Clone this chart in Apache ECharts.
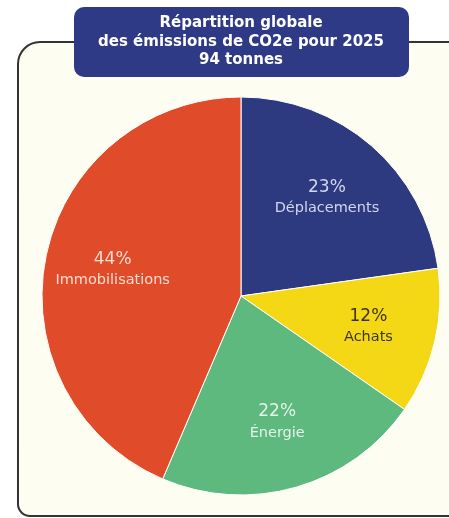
<!DOCTYPE html>
<html>
<head>
<meta charset="utf-8">
<script src="https://cdn.jsdelivr.net/npm/echarts@6/dist/echarts.min.js"></script>
<style>
  html, body { margin: 0; padding: 0; background: #fff; }
  #chart { width: 449px; height: 518px; }
</style>
</head>
<body>
<div id="chart"></div>
<script>
const categories = ['Déplacements', 'Achats', 'Énergie', 'Immobilisations']
const shares = [23, 12, 22, 44]
const sliceColors = ['#2d3a80', '#f4d816', '#5eb97e', '#e04b2a']
const labelColors = ['#d3d6ee', '#3a3520', '#e4f3e8', '#fbdccf']
const titleLines = ['Répartition globale', 'des émissions de CO2e pour 2025', '94 tonnes']

const center = [241, 296]
const radius = 199

const chart = echarts.init(document.getElementById('chart'))

const pieData = categories.map((name, i) => ({
  name: name,
  value: shares[i],
  itemStyle: { color: sliceColors[i] }
}))

const labelData = categories.map((name, i) => ({
  name: name,
  value: shares[i],
  label: { color: labelColors[i] }
}))

const option = {
  animation: false,
  graphic: [
    {
      // cadre crème
      type: 'rect',
      z: 0,
      shape: { x: 18, y: 42, width: 460, height: 474, r: [22, 0, 0, 12] },
      style: { fill: '#fefdf1', stroke: '#333', lineWidth: 2 }
    },
    {
      // bandeau du titre
      type: 'rect',
      z: 10,
      shape: { x: 74, y: 7, width: 335, height: 70, r: 10 },
      style: { fill: '#2e3a86' }
    },
    {
      type: 'text',
      z: 11,
      x: 241,
      y: 42,
      style: {
        text: titleLines.join('\n'),
        fill: '#fff',
        font: 'bold 15px "DejaVu Sans"',
        lineHeight: 18.5,
        align: 'center',
        verticalAlign: 'middle'
      }
    }
  ],
  series: [
    {
      type: 'pie',
      center: center,
      radius: [0, radius],
      startAngle: 90,
      clockwise: true,
      silent: true,
      label: { show: false },
      labelLine: { show: false },
      itemStyle: { borderColor: '#fff', borderWidth: 1 },
      data: pieData
    },
    {
      // série invisible pour placer les étiquettes
      type: 'pie',
      center: center,
      radius: [0, 256],
      startAngle: 90,
      clockwise: true,
      silent: true,
      itemStyle: { color: 'rgba(0,0,0,0)' },
      label: {
        show: true,
        position: 'inside',
        formatter: p => '{p|' + p.value + '%}\n{n|' + p.name + '}',
        rich: {
          p: { fontSize: 17, fontFamily: 'DejaVu Sans', lineHeight: 22 },
          n: { fontSize: 14.5, fontFamily: 'DejaVu Sans', lineHeight: 20 }
        }
      },
      labelLine: { show: false },
      data: labelData
    }
  ]
}

chart.setOption(option)
window.addEventListener('resize', () => chart.resize())
</script>
</body>
</html>
